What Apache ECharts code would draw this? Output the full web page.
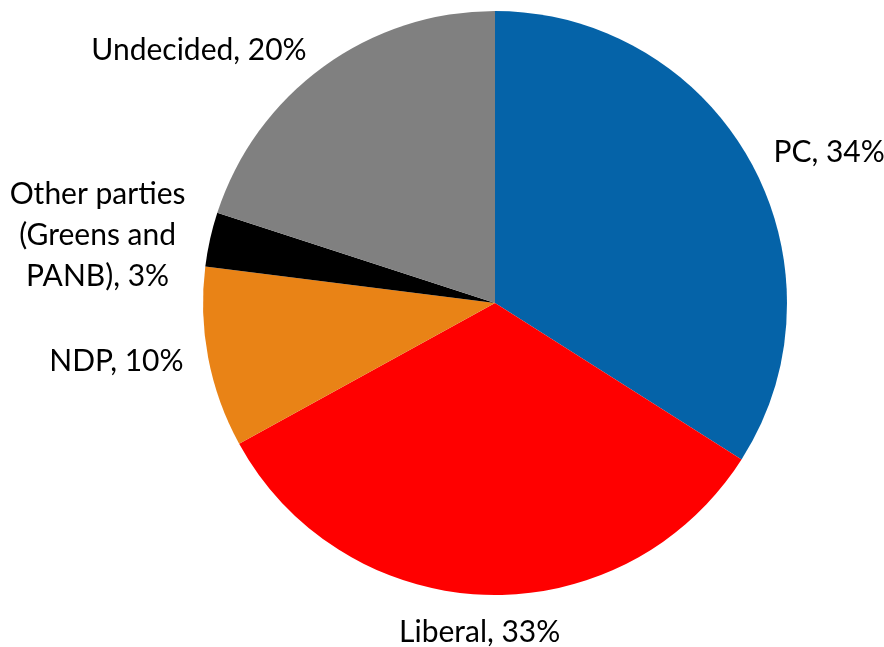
<!DOCTYPE html>
<html><head><meta charset="utf-8">
<script src="https://cdn.jsdelivr.net/npm/echarts@6/dist/echarts.min.js"></script>
<style>html,body{margin:0;padding:0;background:#fff}#c{width:884px;height:647px}</style>
</head><body><div id="c"></div>
<script>
const categories = ['PC', 'Liberal', 'NDP', 'Other parties\n(Greens and\nPANB)', 'Undecided'];
const values = [34, 33, 10, 3, 20];
const colors = ['#0563A8', '#FF0000', '#E98316', '#000000', '#808080'];

const chart = echarts.init(document.getElementById('c'));
chart.setOption({
  animation: false,
  series: [{
    type: 'pie',
    center: [495, 303],
    radius: 292,
    startAngle: 90,
    clockwise: true,
    avoidLabelOverlap: false,
    data: categories.map((n, i) => ({
      name: n, value: values[i], itemStyle: { color: colors[i] },
      labelLine: i === 1 ? { length: 37 } : undefined
    })),
    itemStyle: { borderWidth: 0 },
    label: {
      show: true,
      position: 'outside',
      formatter: p => '{t|' + p.name + ', ' + p.value + '%}',
      rich: {
        t: {
          fontFamily: 'Lato, "Open Sans", sans-serif',
          fontSize: 30,
          lineHeight: 41,
          color: '#000',
          align: 'center'
        }
      },
      color: '#000'
    },
    labelLine: { show: false, length: 20, length2: 0 },
    labelLayout: p => p.dataIndex === 1 ? { align: 'center' } : {}
  }]
});
</script></body></html>
